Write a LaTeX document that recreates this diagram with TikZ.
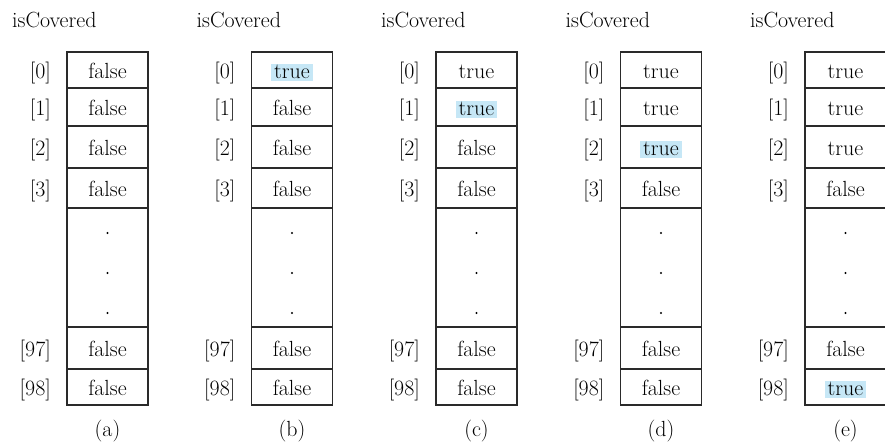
\documentclass[tikz,border=0pt]{standalone}
\usepackage{xcolor}
\definecolor{cover-hl}{HTML}{C6E7F6}
\definecolor{cover-line}{HTML}{2A2A2A}
\usetikzlibrary{positioning}
\newcommand{\hl}[1]{{\setlength{\fboxsep}{3pt}\colorbox{cover-hl}{\raisebox{0pt}[11pt][0pt]{#1}}}}

\begin{document}
\begin{tikzpicture}[
  x=1pt, y=-1pt,
  font=\rmfamily\fontsize{21.9}{26}\selectfont,
  cell/.style={rectangle, draw=cover-line, line width=1.2pt, minimum width=81pt, inner sep=0pt, outer sep=0pt, text height=19pt, text depth=3pt, anchor=north},
  idx/.style={anchor=base east, inner sep=0pt},
  title/.style={anchor=base west, inner sep=0pt},
  caption/.style={inner sep=0pt}
]
  \useasboundingbox (0,0) rectangle (885,442);

  \foreach \c/\x/\va/\vb/\vc/\vd in {a/67/false/false/false/false, b/251.5/{\hl{true}}/false/false/false, c/436/true/{\hl{true}}/false/false, d/620.5/true/true/{\hl{true}}/false, e/805/true/true/true/{\hl{true}}} {
    \node[title] (\c-name) at (\x-55, 27) {isCovered};
    \node[cell, minimum height=36pt] (\c-0) at (\x+40.5, 52) {\va};
    \node[cell, minimum height=38pt, below=0pt of \c-0] (\c-1) {\vb};
    \node[cell, minimum height=42pt, below=0pt of \c-1] (\c-2) {\vc};
    \node[cell, minimum height=40pt, below=0pt of \c-2] (\c-3) {false};
    \node[cell, minimum height=119pt, below=0pt of \c-3] (\c-dots) {};
    \node[cell, minimum height=42pt, below=0pt of \c-dots] (\c-97) {false};
    \node[cell, minimum height=36pt, below=0pt of \c-97] (\c-98) {\vd};

    % index labels and the elided rows
    \foreach \r in {0,1,2,3,97,98}
      \node[idx] (\c-i\r) at ([xshift=-16pt]\c-\r.base west) {[\r]};
    \foreach \d in {25,65,105}
      \fill ([yshift=-\d pt]\c-dots.north) circle (1.1pt);

    \node[caption] (\c-cap) at (\x+40.5, 431) {(\c)};
  }
\end{tikzpicture}
\end{document}
